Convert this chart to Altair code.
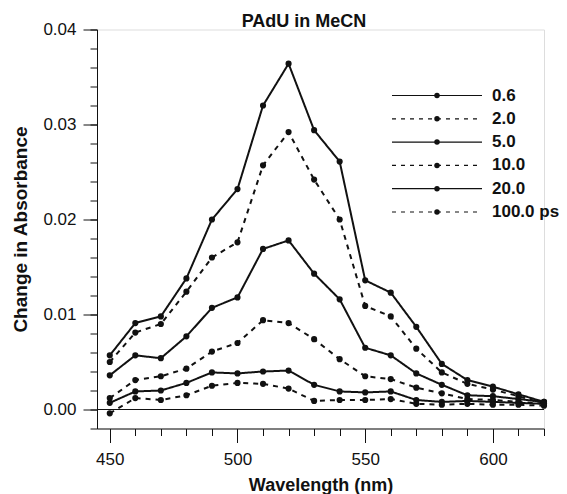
import altair as alt
import pandas as pd

# ---- data ----
wavelengths = [450, 460, 470, 480, 490, 500, 510, 520, 530, 540, 550, 560, 570, 580, 590, 600, 610, 620]
series_labels = ["0.6", "2.0", "5.0", "10.0", "20.0", "100.0 ps"]
s_0_6 = [0.0057, 0.0091, 0.0098, 0.0138, 0.0200, 0.0232, 0.0320, 0.0364, 0.0294, 0.0261, 0.0136, 0.0123, 0.0087, 0.0048, 0.0031, 0.0024, 0.0016, 0.0008]
s_2_0 = [0.0050, 0.0081, 0.0090, 0.0124, 0.0160, 0.0176, 0.0257, 0.0292, 0.0242, 0.0200, 0.0109, 0.0098, 0.0064, 0.0039, 0.0027, 0.0021, 0.0014, 0.0006]
s_5_0 = [0.0036, 0.0057, 0.0054, 0.0077, 0.0107, 0.0118, 0.0169, 0.0178, 0.0143, 0.0116, 0.0065, 0.0057, 0.0038, 0.0026, 0.0015, 0.0014, 0.0011, 0.0008]
s_10_0 = [0.0012, 0.0031, 0.0035, 0.0043, 0.0061, 0.0070, 0.0094, 0.0091, 0.0074, 0.0053, 0.0035, 0.0032, 0.0023, 0.0017, 0.0011, 0.0010, 0.0008, 0.0006]
s_20_0 = [0.0007, 0.0019, 0.0020, 0.0028, 0.0039, 0.0038, 0.0040, 0.0041, 0.0026, 0.0019, 0.0018, 0.0019, 0.0010, 0.0008, 0.0009, 0.0008, 0.0007, 0.0006]
s_100_0 = [-0.0004, 0.0012, 0.0010, 0.0015, 0.0025, 0.0028, 0.0027, 0.0022, 0.0009, 0.0010, 0.0010, 0.0011, 0.0006, 0.0005, 0.0006, 0.0005, 0.0005, 0.0004]
x_major = [450, 500, 550, 600]
x_minor = list(range(450, 621, 10))
y_major = [0.0, 0.01, 0.02, 0.03, 0.04]
y_minor = [round(-0.002 + 0.002 * i, 3) for i in range(22)]
title_text = "PAdU in MeCN"

all_series = [s_0_6, s_2_0, s_5_0, s_10_0, s_20_0, s_100_0]
rows = []
for lab, vals in zip(series_labels, all_series):
    for w, v in zip(wavelengths, vals):
        rows.append({"series": lab, "wl": w, "v": v})
df = pd.DataFrame(rows)

FONT = "Liberation Sans"
INK = "#111111"
W, H = 447, 399
dashes = [[1, 0], [5, 5], [1, 0], [5, 5], [1, 0], [5, 5]]

xscale = alt.Scale(domain=[445, 620], nice=False, zero=False)
yscale = alt.Scale(domain=[-0.002, 0.04], nice=False, zero=False)

base = alt.Chart(df)

lines = base.mark_line(strokeWidth=2, color=INK).encode(
    x=alt.X("wl:Q", scale=xscale,
            axis=alt.Axis(values=x_major, title="Wavelength (nm)", grid=False, tickSize=14,
                          labelFontSize=17, labelFont=FONT, labelColor=INK, labelPadding=9,
                          titleFont=FONT, titleFontSize=18, titleFontWeight="bold", titleColor=INK,
                          titlePadding=9, domainColor=INK, tickColor=INK, orient="bottom")),
    y=alt.Y("v:Q", scale=yscale,
            axis=alt.Axis(values=y_major, format=".2f", title="Change in Absorbance", grid=False,
                          tickSize=14, labelFontSize=17, labelFont=FONT, labelColor=INK, labelPadding=7,
                          titleFont=FONT, titleFontSize=19, titleFontWeight="bold", titleColor=INK,
                          titlePadding=12, domainColor=INK, tickColor=INK, orient="left")),
    detail="series:N",
    strokeDash=alt.StrokeDash("series:N", scale=alt.Scale(domain=series_labels, range=dashes), legend=None),
)

points = base.mark_circle(size=38, color=INK, opacity=1).encode(
    x=alt.X("wl:Q", scale=xscale,
            axis=alt.Axis(values=x_minor, labels=False, title=None, grid=False, tickSize=7,
                          domain=False, tickColor=INK, orient="bottom")),
    y=alt.Y("v:Q", scale=yscale,
            axis=alt.Axis(values=y_minor, labels=False, title=None, grid=False, tickSize=7,
                          domain=False, tickColor=INK, orient="left")),
)

zero = alt.Chart(pd.DataFrame({"z": [0.0]})).mark_rule(color=INK, strokeWidth=1).encode(
    y=alt.Y("z:Q", scale=yscale, axis=None),
    x=alt.value(0), x2=alt.value(W),
)

title = alt.Chart(pd.DataFrame({"t": [title_text]})).mark_text(
    font=FONT, fontSize=18, fontWeight="bold", color=INK, align="center", baseline="middle"
).encode(text="t:N", x=alt.value(207), y=alt.value(-7.5))

legend_layers = []
LX1, LX2, LDOT, LTXT, LY0, LSTEP = 295, 385, 340, 395, 66, 23.3
for i, lab in enumerate(series_labels):
    yy = LY0 + i * LSTEP
    d = pd.DataFrame({"label": [lab]})
    legend_layers.append(
        alt.Chart(d).mark_rule(color=INK, strokeWidth=1.2,
                               strokeDash=[1, 0] if i % 2 == 0 else [4, 5]).encode(
            x=alt.value(LX1), x2=alt.value(LX2), y=alt.value(yy))
    )
    legend_layers.append(
        alt.Chart(d).mark_circle(size=30, color=INK, opacity=1).encode(
            x=alt.value(LDOT), y=alt.value(yy))
    )
    legend_layers.append(
        alt.Chart(d).mark_text(font=FONT, fontSize=17, fontWeight="bold", color=INK,
                               align="left", baseline="middle").encode(
            text="label:N", x=alt.value(LTXT), y=alt.value(yy))
    )

chart = alt.layer(lines, points, zero, title, *legend_layers).resolve_axis(
    x="independent", y="independent"
).properties(
    width=W, height=H,
    autosize=alt.AutoSizeParams(type="none"),
    padding={"left": 89, "top": 21.5, "right": 15, "bottom": 65},
).configure_view(stroke=None).configure(background="white")

chart.save("out.html", embed_options={"renderer": "svg", "actions": False})
